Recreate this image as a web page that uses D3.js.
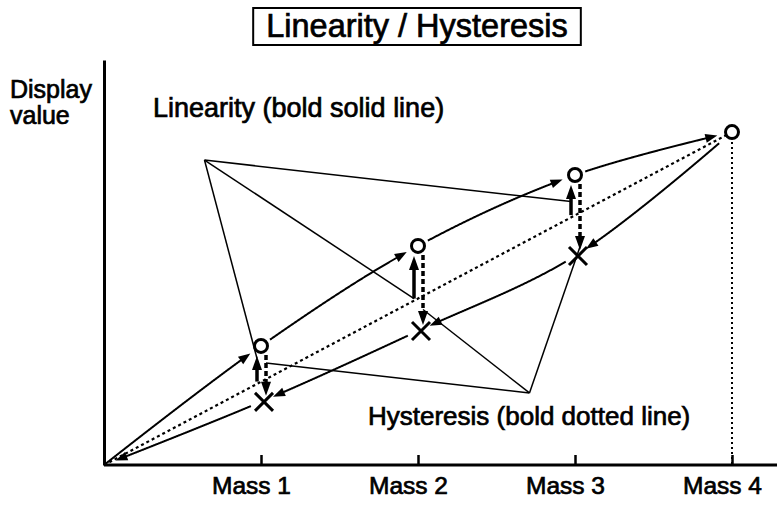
<!DOCTYPE html>
<html>
<head>
<meta charset="utf-8">
<script src="https://cdn.jsdelivr.net/npm/d3@7"></script>
<style>
  body { margin: 0; background: #fff; }
  text { font-family: "Liberation Sans", Arial, sans-serif; fill: #000; stroke: #000; stroke-width: 0.7; }
</style>
</head>
<body>
<svg id="chart" width="777" height="507"></svg>
<script>
// ── Data ────────────────────────────────────────────────
const massLabels      = ['Mass 1', 'Mass 2', 'Mass 3', 'Mass 4'];
const masses          = [0, 1, 2, 3, 4];
const loadingValues   = [0, 29.4, 54.1, 71.6, 82.2];   // circles, going up
const unloadingValues = [0, 15.6, 33.1, 51.6, 82.2];   // crosses, coming down
const linearValues    = [0, 20.6, 41.1, 61.7, 82.2];   // ideal straight line

// leader targets: fraction along the bold arrow of each mass (1..3)
const linLeaderAt = [0.9, 0.0, 0.45];
const hysLeaderAt = [0.2, 0.78, 0.95];
const linAnchor   = [0.64, 75.3];   // [mass, value] where the leaders meet
const hysAnchor   = [2.71, 17.8];

const svg = d3.select('#chart');

const x = d3.scaleLinear().domain([0, 4]).range([104, 732]);
const y = d3.scaleLinear().domain([0, 100]).range([465, 60]);

// ── Axes ───────────────────────────────────────────────
const xAxis = svg.append('g')
  .attr('transform', `translate(0,${y(0)})`)
  .call(d3.axisBottom(x).tickValues([1, 2, 3, 4])
    .tickFormat(d => massLabels[d - 1])
    .tickSizeInner(-10).tickSizeOuter(0).tickPadding(17));
xAxis.select('.domain').attr('d', `M${x(0)},0H777`).attr('stroke', '#000').attr('stroke-width', 3);
xAxis.selectAll('.tick line').attr('stroke', '#000').attr('stroke-width', 2.5);
xAxis.selectAll('.tick text')
  .attr('font-size', 24.5).attr('font-family', '"Liberation Sans", Arial, sans-serif')
  .attr('dx', -10).attr('dy', '0.5em');

const yAxis = svg.append('g')
  .attr('transform', `translate(${x(0)},0)`)
  .call(d3.axisLeft(y).ticks(0).tickSizeOuter(0));
yAxis.select('.domain').attr('stroke', '#000').attr('stroke-width', 3);

// ── Helpers ────────────────────────────────────────────
function head(tip, from, len, wid) {
  const dx = tip[0] - from[0], dy = tip[1] - from[1], d = Math.hypot(dx, dy);
  const ux = dx / d, uy = dy / d;
  const bx = tip[0] - ux * len, by = tip[1] - uy * len;
  svg.append('path')
    .attr('d', `M${tip[0]},${tip[1]}L${bx - uy * wid / 2},${by + ux * wid / 2}L${bx + uy * wid / 2},${by - ux * wid / 2}Z`)
    .attr('fill', '#000');
  return [bx + ux * 2, by + uy * 2];
}

// smooth curve through the knots, cut into arrowed pieces
function arrowCurve(pts, gapStart, gapEnd) {
  const tmp = svg.append('path')
    .attr('d', d3.line().curve(d3.curveCatmullRom)(pts)).attr('fill', 'none');
  const node = tmp.node(), L = node.getTotalLength();
  const samples = d3.range(0, L, 0.5).concat([L]).map(l => {
    const p = node.getPointAtLength(l); return [p.x, p.y, l];
  });
  tmp.remove();
  const knotL = pts.map(p => d3.least(samples, s => Math.hypot(s[0] - p[0], s[1] - p[1]))[2]);
  for (let i = 0; i < pts.length - 1; i++) {
    const a = knotL[i] + gapStart[i], b = knotL[i + 1] - gapEnd[i];
    const seg = samples.filter(s => s[2] >= a && s[2] <= b);
    const tip = seg[seg.length - 1];
    const back = samples.find(s => s[2] >= b - 10);
    const end = head(tip, back, 12, 9);
    const body = seg.filter(s => s[2] <= b - 10).map(s => [s[0], s[1]]);
    body.push(end);
    svg.append('path').attr('d', d3.line()(body))
      .attr('fill', 'none').attr('stroke', '#000').attr('stroke-width', 2);
  }
}

// ── Straight (ideal) dotted line and Mass 4 drop line ──
svg.append('line')
  .attr('x1', x(0)).attr('y1', y(linearValues[0]))
  .attr('x2', x(4)).attr('y2', y(linearValues[4]))
  .attr('stroke', '#000').attr('stroke-width', 2.2).attr('stroke-dasharray', '3,3');
svg.append('line')
  .attr('x1', x(4)).attr('y1', y(loadingValues[4]) + 10)
  .attr('x2', x(4)).attr('y2', y(0))
  .attr('stroke', '#000').attr('stroke-width', 2).attr('stroke-dasharray', '2,3');

// ── Loading / unloading curves ─────────────────────────
const upPts = masses.map((m, i) => [x(m), y(loadingValues[i])]);
arrowCurve(upPts, [0, 11, 11, 11], [13, 13, 13, 15]);

const downPts = masses.map((m, i) => [x(m), y(unloadingValues[i])]).reverse();
downPts[0] = [x(4), y(loadingValues[4])];
arrowCurve(downPts, [17, 11, 11, 11], [13, 13, 13, 12]);

// ── Bold arrows: linearity (solid) and hysteresis (dashed) ──
const linArrows = [], hysArrows = [];
[1, 2, 3].forEach(m => {
  const sx = x(m) - 4, s0 = y(linearValues[m]), s1 = y(loadingValues[m]) + 10;
  const e1 = head([sx, s1], [sx, s0], 14, 10);
  svg.append('line').attr('x1', sx).attr('y1', s0).attr('x2', sx).attr('y2', e1[1])
    .attr('stroke', '#000').attr('stroke-width', 3.5);
  linArrows.push([sx, s0, s1]);

  const hx = x(m) + 5, h0 = y(loadingValues[m]) + 9, h1 = y(unloadingValues[m]) - 6;
  const e2 = head([hx, h1], [hx, h0], 14, 10);
  svg.append('line').attr('x1', hx).attr('y1', h0).attr('x2', hx).attr('y2', e2[1])
    .attr('stroke', '#000').attr('stroke-width', 3.5).attr('stroke-dasharray', '5,3');
  hysArrows.push([hx, h0, h1]);
});

// ── Leader lines ───────────────────────────────────────
const leader = d3.line();
linArrows.forEach((a, i) => {
  svg.append('path')
    .attr('d', leader([[x(linAnchor[0]), y(linAnchor[1])], [a[0], a[1] + (a[2] - a[1]) * linLeaderAt[i]]]))
    .attr('stroke', '#000').attr('stroke-width', 1.5).attr('fill', 'none');
});
hysArrows.forEach((a, i) => {
  svg.append('path')
    .attr('d', leader([[x(hysAnchor[0]), y(hysAnchor[1])], [a[0], a[1] + (a[2] - a[1]) * hysLeaderAt[i]]]))
    .attr('stroke', '#000').attr('stroke-width', 1.5).attr('fill', 'none');
});

// ── Markers: circles (up) and crosses (down) ───────────
svg.selectAll('.up').data(masses.slice(1)).join('circle')
  .attr('cx', m => x(m)).attr('cy', m => y(loadingValues[m])).attr('r', 6.5)
  .attr('fill', '#fff').attr('stroke', '#000').attr('stroke-width', 3);

svg.selectAll('.down').data([1, 2, 3]).join('path')
  .attr('d', m => {
    const cx = x(m) + 3, cy = y(unloadingValues[m]), r = 9;
    return `M${cx - r},${cy - r}L${cx + r},${cy + r}M${cx - r},${cy + r}L${cx + r},${cy - r}`;
  })
  .attr('stroke', '#000').attr('stroke-width', 3);

// ── Texts ──────────────────────────────────────────────
const titleBox = svg.append('rect')
  .attr('fill', '#fff').attr('stroke', '#000').attr('stroke-width', 2);
const title = svg.append('text')
  .attr('x', 417).attr('y', 37).attr('text-anchor', 'middle')
  .attr('font-size', 32.5).text('Linearity / Hysteresis');
const tb = title.node().getBBox();
titleBox.attr('x', tb.x - 13).attr('y', 8).attr('width', tb.width + 26).attr('height', 37);

const yl = svg.append('text').attr('font-size', 25);
yl.append('tspan').attr('x', 10).attr('y', 98).text('Display');
yl.append('tspan').attr('x', 10).attr('y', 124).text('value');

svg.append('text').attr('x', 153).attr('y', 117).attr('font-size', 27)
  .text('Linearity (bold solid line)');
svg.append('text').attr('x', 368).attr('y', 425).attr('font-size', 26)
  .text('Hysteresis (bold dotted line)');
</script>
</body>
</html>
